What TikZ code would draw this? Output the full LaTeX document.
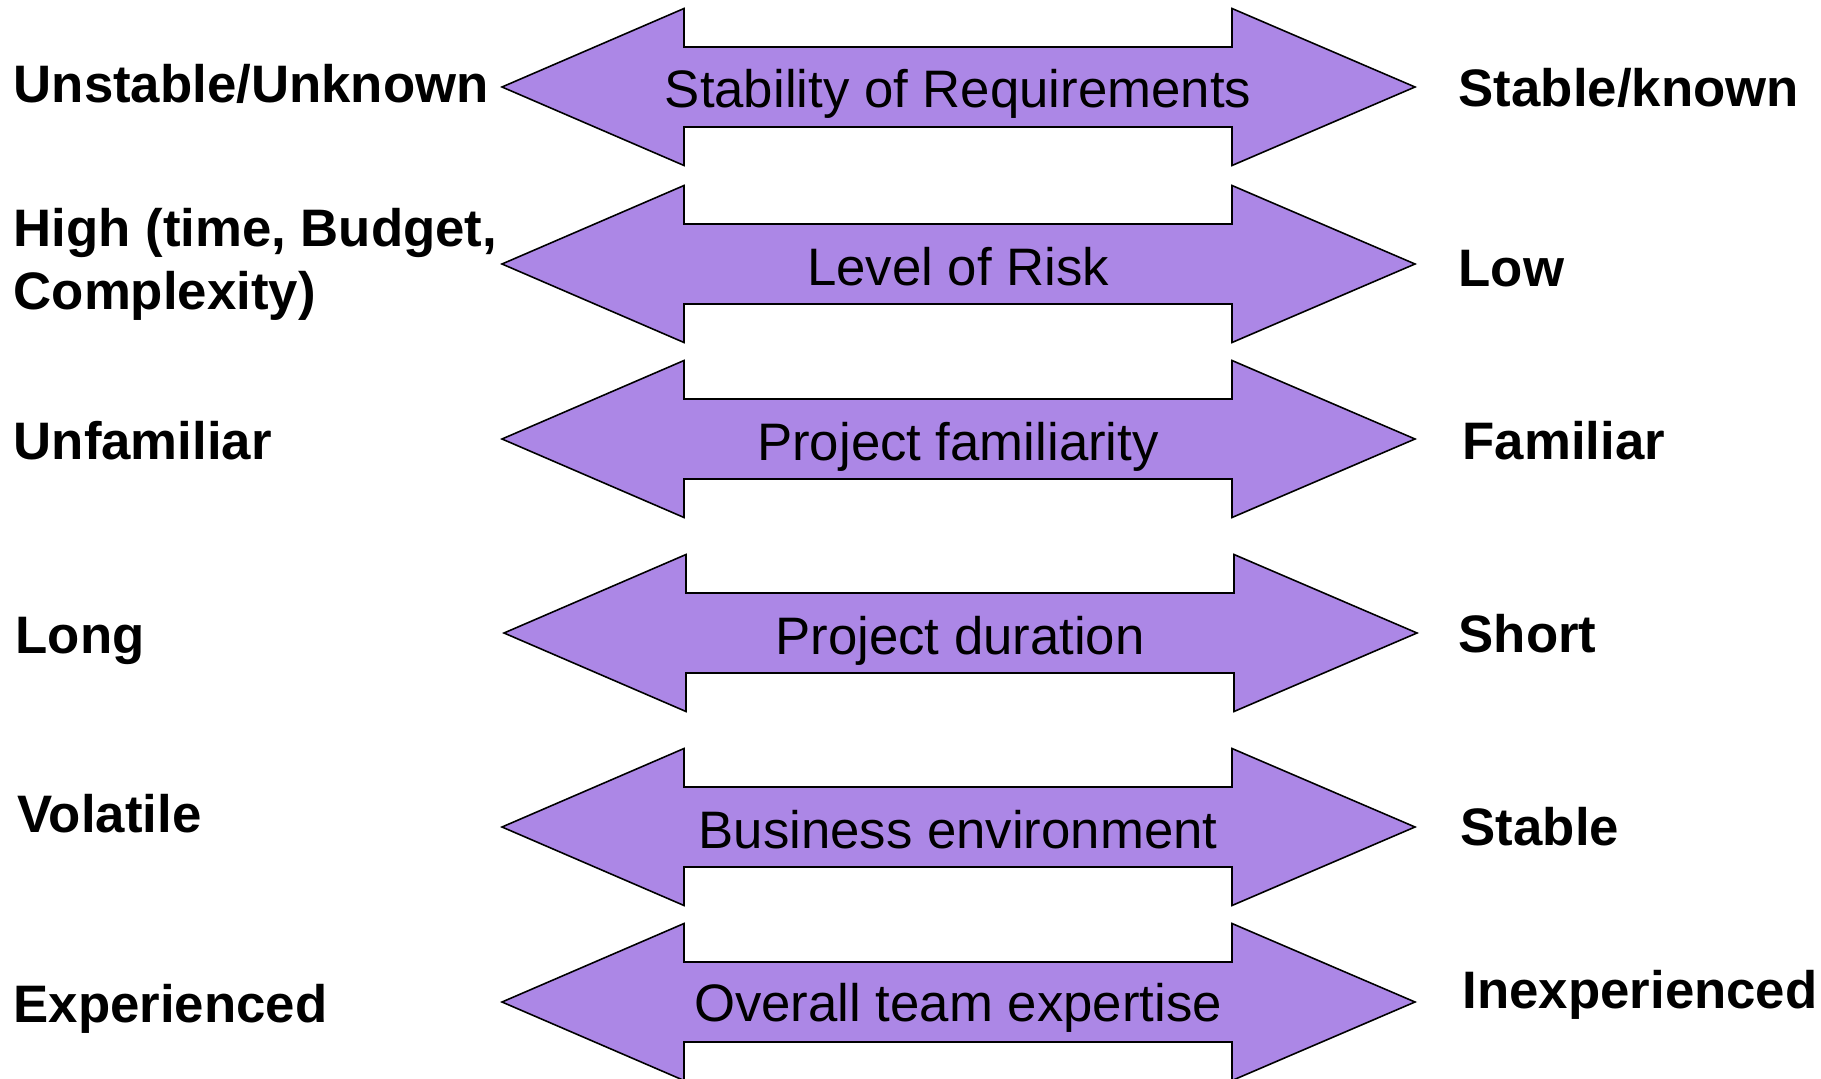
\documentclass[tikz,border=0pt]{standalone}
\usepackage{fontspec}
\setmainfont{Liberation Sans}
\definecolor{arrowfill}{RGB}{172,135,230}

\begin{document}
\begin{tikzpicture}%
	[
	x={(0.01cm, 0cm)},
	y={(0cm, -0.01cm)},
	arrowbody/.style={draw=black, line width=0.45pt, fill=arrowfill, line join=miter},
	midtext/.style={font=\fontsize{15}{18}\selectfont, anchor=base, inner sep=0pt},
	lefttext/.style={font=\bfseries\fontsize{15}{18}\selectfont, anchor=base west, inner sep=0pt},
	righttext/.style={font=\bfseries\fontsize{15}{18}\selectfont, anchor=base west, inner sep=0pt}]

\useasboundingbox (0,0) rectangle (1821,1079);

% double arrows: centre y / shift x
\foreach \cy/\dx in {87/0, 264/0, 439/0, 633/2, 827/0, 1002/0}
{
	\draw[arrowbody] (502+\dx,\cy) -- (684+\dx,\cy-78.5) -- (684+\dx,\cy-40)
		-- (1232+\dx,\cy-40) -- (1232+\dx,\cy-78.5) -- (1415+\dx,\cy)
		-- (1232+\dx,\cy+78.5) -- (1232+\dx,\cy+40) -- (684+\dx,\cy+40)
		-- (684+\dx,\cy+78.5) -- cycle;
}

\node[midtext] (stability) at (958,108) {Stability of Requirements};
\node[midtext] (risk) at (958,285) {Level of Risk};
\node[midtext] (familiarity) at (958,460) {Project familiarity};
\node[midtext] (duration) at (960,654) {Project duration};
\node[midtext] (business) at (958,848) {Business environment};
\node[midtext] (expertise) at (958,1021) {Overall team expertise};

\node[lefttext] (unstable) at (13,103) {Unstable/Unknown};
\node[lefttext] (high) at (13,247) {High (time, Budget,};
\node[lefttext] (complexity) at (13,310) {Complexity)};
\node[lefttext] (unfamiliar) at (13,459) {Unfamiliar};
\node[lefttext] (long) at (15,653) {Long};
\node[lefttext] (volatile) at (17,832) {Volatile};
\node[lefttext] (experienced) at (13,1022) {Experienced};

\node[righttext] (stableknown) at (1458,107) {Stable/known};
\node[righttext] (low) at (1458,286) {Low};
\node[righttext] (familiar) at (1462,459) {Familiar};
\node[righttext] (short) at (1458,652) {Short};
\node[righttext] (stable) at (1460,845) {Stable};
\node[righttext] (inexperienced) at (1462,1008) {Inexperienced};
\end{tikzpicture}
\end{document}
